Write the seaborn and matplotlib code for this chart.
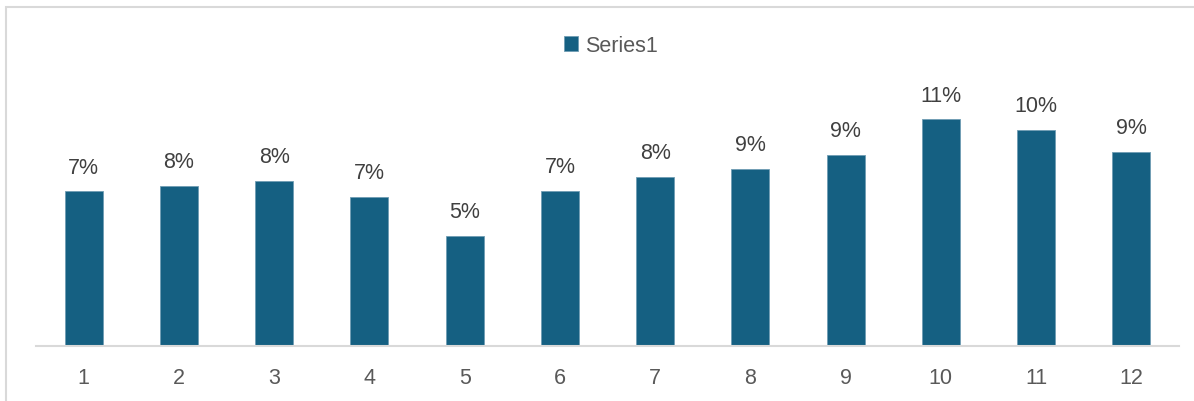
import matplotlib
matplotlib.use("Agg")
import matplotlib.pyplot as plt
import seaborn as sns
import pandas as pd
from matplotlib.patches import Rectangle

# ================== data ==================
months = ["1", "2", "3", "4", "5", "6", "7", "8", "9", "10", "11", "12"]
rates = [0.0746, 0.0773, 0.0797, 0.0720, 0.0531, 0.0747,
         0.0814, 0.0854, 0.0921, 0.1094, 0.1043, 0.0936]
series_name = "Series1"

df = pd.DataFrame({"month": months, "rate": rates})

sns.set_theme(style="white")
plt.rcParams["font.family"] = ["Liberation Sans", "DejaVu Sans"]

fig = plt.figure(figsize=(11.94, 4.02), dpi=100)
ax = fig.add_axes([36 / 1194, 1 - 346.7 / 402, (1179 - 36) / 1194, (346.7 - 98.5) / 402])

bar_col = "#156082"
sns.barplot(data=df, x="month", y="rate", color=bar_col, width=0.4,
            saturation=1, label=series_name, ax=ax,
            edgecolor="#6f9db3", linewidth=0.6)

ax.set_ylim(0, 0.12)
ax.set_xlim(-0.5, len(months) - 0.5)
ax.set_xlabel("")
ax.set_ylabel("")
ax.set_yticks([])

for s in ["top", "right", "left"]:
    ax.spines[s].set_visible(False)
ax.spines["bottom"].set_color("#d9d9d9")
ax.spines["bottom"].set_linewidth(1.5)

ax.tick_params(axis="x", length=0, pad=15.5, labelsize=15.5, labelcolor="#595959")

# data labels
ax.bar_label(ax.containers[0], labels=[f"{v:.0%}" for v in rates],
             padding=10, fontsize=15.5, color="#404040")

# legend at top
ax.legend(loc="center", bbox_to_anchor=(611 / 1194, 1 - 46.5 / 402),
          bbox_transform=fig.transFigure, frameon=False, fontsize=15.5,
          handlelength=0.65, handleheight=0.65, handletextpad=0.3,
          labelcolor="#595959")

# chart frame (left and top edges visible)
fig.patches.append(Rectangle((6 / 1194, -0.5), 2, 1.5 - 8 / 402,
                             transform=fig.transFigure, fill=False,
                             edgecolor="#d9d9d9", linewidth=1.5))

fig.savefig("out.png", dpi=100, facecolor="white")
